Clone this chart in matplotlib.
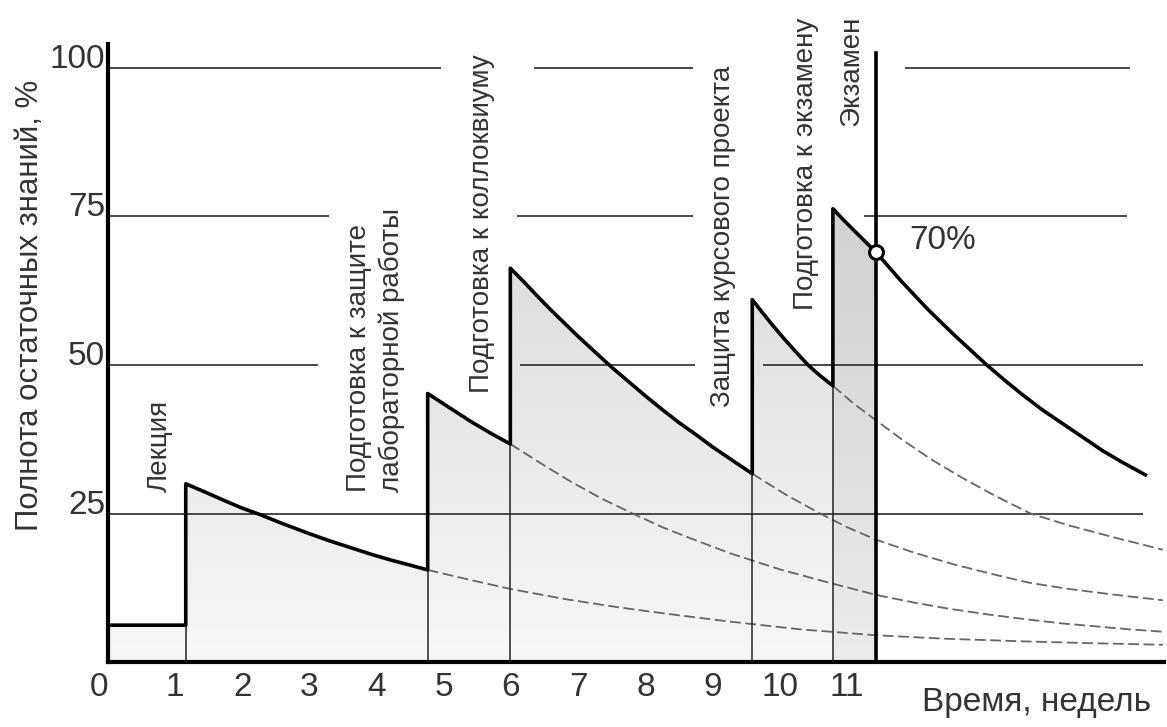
import numpy as np
import matplotlib
matplotlib.use("Agg")
import matplotlib.pyplot as plt
from matplotlib import font_manager
from matplotlib.colors import LinearSegmentedColormap
from matplotlib.patches import Polygon

# ---- data (weeks, % of residual knowledge) ----
init_x = [0.0, 1.16]
init_y = [6.2, 6.2]

lecture_x = [1.16, 1.45, 1.75, 2.0, 2.27, 2.6, 3.0, 3.3, 3.6, 3.9, 4.2, 4.5, 4.76]
lecture_y = [30.0, 28.6, 27.1, 25.9, 24.8, 23.3, 21.6, 20.4, 19.3, 18.2, 17.2, 16.3, 15.5]
lecture_tail_x = [4.76, 5.4, 5.99, 6.8, 7.6, 8.4, 9.26, 10.3, 11.43, 12.5, 13.7, 14.7, 15.7]
lecture_tail_y = [15.5, 13.8, 12.3, 10.6, 9.2, 8.0, 6.8, 5.5, 4.5, 3.9, 3.45, 3.15, 2.9]

lab_x = [4.76, 5.1, 5.4, 5.7, 5.99]
lab_y = [45.2, 42.7, 40.5, 38.5, 36.7]
lab_tail_x = [5.99, 6.45, 6.9, 7.35, 7.81, 8.25, 8.7, 9.26, 10.0, 10.75, 11.43, 12.0, 12.5, 13.1, 13.73, 14.2, 14.7, 15.2, 15.7]
lab_tail_y = [36.7, 33.4, 30.3, 27.5, 25.0, 22.7, 20.7, 18.3, 15.6, 13.3, 11.3, 10.0, 9.0, 8.0, 7.1, 6.5, 6.0, 5.5, 5.1]

koll_x = [5.99, 6.2, 6.4, 6.6, 6.8, 7.0, 7.25, 7.5, 7.75, 8.0, 8.25, 8.5, 8.75, 9.0, 9.3, 9.59]
koll_y = [66.3, 63.9, 61.5, 59.2, 57.0, 54.8, 52.2, 49.6, 47.2, 44.8, 42.5, 40.3, 38.3, 36.2, 33.9, 31.7]
koll_tail_x = [9.59, 10.1, 10.6, 11.0, 11.43, 12.0, 12.6, 13.2, 13.73, 14.3, 15.0, 15.7]
koll_tail_y = [31.7, 28.1, 25.0, 22.7, 20.6, 18.4, 16.4, 14.7, 13.3, 12.3, 11.3, 10.4]

kurs_x = [9.59, 9.75, 9.9, 10.05, 10.2, 10.42, 10.6, 10.79]
kurs_y = [61.0, 58.7, 56.6, 54.6, 52.7, 50.0, 48.2, 46.5]
kurs_tail_x = [10.79, 11.1, 11.43, 11.8, 12.24, 12.7, 13.2, 13.73, 14.3, 15.0, 15.7]
kurs_tail_y = [46.5, 43.5, 40.7, 37.6, 34.2, 31.1, 28.0, 25.0, 23.0, 20.9, 18.9]

prep_x = [10.79, 10.95, 11.1, 11.27, 11.43, 11.6, 11.8, 12.0, 12.2, 12.4, 12.6, 12.85, 13.08,
          13.35, 13.6, 13.9, 14.2, 14.5, 14.8, 15.1, 15.44]
prep_y = [76.3, 74.4, 72.7, 70.8, 69.0, 66.8, 64.2, 61.8, 59.4, 57.2, 55.0, 52.4, 50.0,
          47.4, 45.1, 42.5, 40.2, 37.9, 35.6, 33.6, 31.5]

exam_week = 11.43
exam_level = 69.0

grid_levels = [100, 75, 50, 25]
grid_segments = [
    [(0, 4.96), (6.34, 8.71), (11.86, 15.21)],
    [(0, 3.29), (6.09, 8.71), (11.25, 15.16)],
    [(0, 3.13), (6.13, 8.74), (9.75, 15.41)],
    [(0, 15.41)],
]

x_ticks = list(range(12))
y_ticks = [25, 50, 75, 100]

# ---- fonts ----
installed = {f.name for f in font_manager.fontManager.ttflist}
narrow = "Liberation Sans Narrow" if "Liberation Sans Narrow" in installed else "Liberation Sans"
plt.rcParams["font.family"] = ["Liberation Sans", "DejaVu Sans"]

W, H = 1167, 727
x0_px, x_scale = 107.8, 67.2
y0_px, y_scale = 662, 5.94
xmax, ymax = 15.72, 104

fig = plt.figure(figsize=(W / 100, H / 100), dpi=100)
ax = fig.add_axes([x0_px / W, (H - y0_px) / H,
                   xmax * x_scale / W, ymax * y_scale / H])

# gradient fill under the solid envelope, up to the exam
env_x = init_x + lecture_x + lab_x + koll_x + kurs_x + prep_x
env_y = init_y + lecture_y + lab_y + koll_y + kurs_y + prep_y
fx = [x for x in env_x if x <= exam_week]
fy = env_y[:len(fx)]
verts = list(zip(fx, fy)) + [(exam_week, 0), (0, 0)]
poly = Polygon(verts, closed=True, transform=ax.transData)
cmap = LinearSegmentedColormap.from_list("g", ["#f7f7f7", "#d9d9d9"])
grad = np.linspace(0, 1, 256).reshape(-1, 1)
im = ax.imshow(grad, extent=[0, exam_week, 0, 80], origin="lower",
               aspect="auto", cmap=cmap, zorder=1)
im.set_clip_path(poly)
ax.fill_between([kurs_x[-1], exam_week], 0,
                [prep_y[0], exam_level], color="black", alpha=0.045,
                linewidth=0, zorder=1)

# horizontal level lines, broken where the labels stand
for lvl, segs in zip(grid_levels, grid_segments):
    for a, b in segs:
        ax.plot([a, b], [lvl, lvl], color="#3a3a3a", lw=1.3, zorder=2,
                solid_capstyle="butt")

# forgetting continuation (dashed)
for tx, ty in [(lecture_tail_x, lecture_tail_y), (lab_tail_x, lab_tail_y),
               (koll_tail_x, koll_tail_y), (kurs_tail_x, kurs_tail_y)]:
    ax.plot(tx, ty, color="#666666", lw=1.3, ls=(0, (6, 2.5)), zorder=3)

# thin event lines
for sx, sy in [(lecture_x, lecture_y), (lab_x, lab_y), (koll_x, koll_y),
               (kurs_x, kurs_y), (prep_x, prep_y)]:
    ax.plot([sx[0], sx[0]], [0, sy[0]], color="#222222", lw=1.1, zorder=3)

# solid envelope
ax.plot(env_x, env_y, color="black", lw=2.6, zorder=4,
        solid_joinstyle="round")

# exam line and marker
ax.plot([exam_week, exam_week], [0, 102.5], color="black", lw=2.6, zorder=5)
ax.plot([exam_week], [exam_level], "o", ms=10, mfc="white", mec="black",
        mew=2.2, zorder=6)
ax.text(11.92, 71.0, "70%", fontsize=24, family=narrow, color="#333333",
        ha="left", va="center", zorder=6)

# event labels
rot_kw = dict(rotation=90, fontsize=20, color="#333333", zorder=6,
              ha="center", va="bottom")
ax.text(0.78, 28.6, "Лекция", **rot_kw)
ax.text(3.98, 28.6, "Подготовка к защите\nлабораторной работы",
        linespacing=1.3, multialignment="left", **rot_kw)
ax.text(5.57, 45.3, "Подготовка к коллоквиуму", **rot_kw)
ax.text(9.15, 43.0, "Защита курсового проекта", **rot_kw)
ax.text(10.39, 59.3, "Подготовка к экзамену", **rot_kw)
ax.text(11.07, 90.2, "Экзамен", **rot_kw)

ax.text(15.53, -6.9, "Время, недель", fontsize=24, family=narrow,
        color="#333333", ha="right", va="center", clip_on=False)
fig.text(30 / W, 1 - 305 / H, "Полнота остаточных знаний, %", rotation=90,
         fontsize=22.5, color="#333333", ha="center", va="center")

# axes
ax.set_xlim(0, xmax)
ax.set_ylim(0, ymax)
for s in ["top", "right"]:
    ax.spines[s].set_visible(False)
for s in ["left", "bottom"]:
    ax.spines[s].set_linewidth(3.0)
    ax.spines[s].set_capstyle("projecting")

ax.set_xticks(x_ticks)
ax.set_xticklabels([str(t) for t in x_ticks])
ax.set_yticks(y_ticks)
ax.set_yticklabels([str(t) for t in y_ticks])
ax.tick_params(length=0, colors="#333333", labelsize=24)
ax.tick_params(axis="x", pad=7)
ax.tick_params(axis="y", pad=2)
for lab in ax.get_xticklabels() + ax.get_yticklabels():
    lab.set_family(narrow)
ax.get_xticklabels()[0].set_horizontalalignment("right")
for lab in ax.get_yticklabels():
    lab.set_verticalalignment("baseline")

fig.savefig("out.png", dpi=100)
